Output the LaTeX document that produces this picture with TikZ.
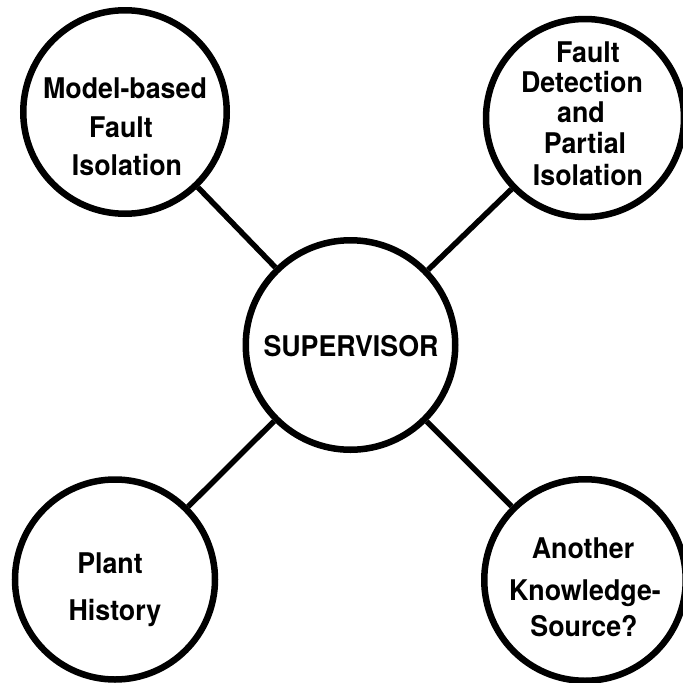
\documentclass[tikz,border=0pt]{standalone}
\usepackage{fontspec}
\setmainfont{TeX Gyre Heros}[FakeStretch=0.94]
\begin{document}
\begin{tikzpicture}[x=1pt,y=-1pt,
  ks/.style={draw=black,line width=6.5pt,circle,inner sep=0pt,fill=white},
  lbl/.style={anchor=base,inner sep=0pt,font=\fontsize{28.5}{32}\selectfont\bfseries},
  link/.style={line width=5.5pt}]
\useasboundingbox (0,0) rectangle (683,683);
% knowledge sources around the supervisor
\node[ks,minimum size=209.5pt] (sup) at (350.5,345) {};
\node[ks,minimum size=203.5pt] (mbfi) at (125,112) {};
\node[ks,minimum size=198pt] (fdpi) at (585,118) {};
\node[ks,minimum size=200pt] (ph) at (115,579.5) {};
\node[ks,minimum size=201.5pt] (aks) at (585,580) {};
% links from the supervisor
\draw[link] (sup) -- (mbfi);
\draw[link] (sup) -- (fdpi);
\draw[link] (sup) -- (ph);
\draw[link] (sup) -- (aks);
% labels
\node[lbl] (supl) at (351,356) {SUPERVISOR};
\node[lbl] (mb1) at (125,98) {Model-based};
\node[lbl] (mb2) at (121,137) {Fault};
\node[lbl] (mb3) at (127,175) {Isolation};
\node[lbl] (fd1) at (588,62) {Fault};
\node[lbl] (fd2) at (582,92) {Detection};
\node[lbl] (fd3) at (581,122) {and};
\node[lbl] (fd4) at (585,153) {Partial};
\node[lbl] (fd5) at (588,185) {Isolation};
\node[lbl] (ph1) at (110,573) {Plant};
\node[lbl] (ph2) at (115,620) {History};
\node[lbl] (ak1) at (583,558) {Another};
\node[lbl] (ak2) at (585,600) {Knowledge-};
\node[lbl] (ak3) at (584,636) {Source?};
\end{tikzpicture}
\end{document}
